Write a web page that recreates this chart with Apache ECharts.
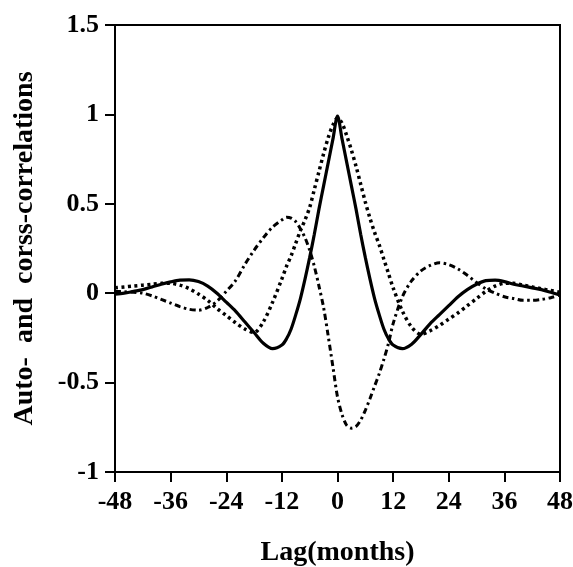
<!DOCTYPE html>
<html>
<head>
<meta charset="utf-8">
<script src="https://cdn.jsdelivr.net/npm/echarts@6/dist/echarts.min.js"></script>
<style>html,body{margin:0;padding:0;background:#fff;}#c{width:573px;height:567px;}</style>
</head>
<body>
<div id="c"></div>
<script>
const lags = [-48,-46,-44,-42,-40,-38,-36,-34,-32,-30,-28,-26,-24,-22,-20,-18,-16,-14,
  -12,-11,-10,-9,-8,-7,-6,-5,-4,-3,-2,-1,0,1,2,3,4,5,6,7,8,9,10,11,12,
  14,16,18,20,22,24,26,28,30,32,34,36,38,40,42,44,46,48];
const solidVals = [-0.005,0.0,0.01,0.02,0.035,0.05,0.063,0.073,0.075,0.065,0.04,0.0,-0.05,-0.1,-0.16,-0.22,-0.28,-0.31,
  -0.29,-0.255,-0.2,-0.12,-0.03,0.08,0.2,0.33,0.47,0.6,0.73,0.86,0.99,0.86,0.73,0.6,0.47,0.33,0.2,0.08,-0.03,-0.12,-0.2,-0.255,-0.29,
  -0.31,-0.285,-0.23,-0.17,-0.12,-0.07,-0.02,0.02,0.05,0.07,0.073,0.065,0.05,0.04,0.03,0.02,0.005,-0.01];
const dottedVals = [0.03,0.035,0.04,0.045,0.05,0.055,0.055,0.045,0.025,-0.005,-0.04,-0.085,-0.125,-0.165,-0.2,-0.22,-0.16,-0.05,
  0.08,0.15,0.21,0.28,0.35,0.41,0.48,0.58,0.68,0.78,0.87,0.94,0.98,0.95,0.88,0.8,0.71,0.61,0.51,0.42,0.34,0.27,0.19,0.11,0.03,
  -0.1,-0.19,-0.23,-0.21,-0.18,-0.145,-0.11,-0.07,-0.03,0.01,0.04,0.055,0.055,0.045,0.035,0.025,0.015,0.005];
const dashDotVals = [0.01,0.008,0.005,0.0,-0.015,-0.035,-0.055,-0.075,-0.09,-0.095,-0.08,-0.045,0.01,0.07,0.16,0.24,0.31,0.37,
  0.41,0.425,0.42,0.4,0.36,0.31,0.24,0.15,0.04,-0.08,-0.24,-0.41,-0.58,-0.68,-0.74,-0.755,-0.745,-0.71,-0.655,-0.59,-0.52,-0.45,-0.37,-0.28,-0.17,
  -0.02,0.07,0.125,0.155,0.17,0.16,0.135,0.1,0.06,0.025,0.0,-0.02,-0.03,-0.04,-0.04,-0.035,-0.025,-0.01];
const xTitle = 'Lag(months)';
const yTitle = 'Auto-  and  corss-correlations';

const pair = v => lags.map((l, i) => [l, v[i]]);
const font = 'Liberation Serif';
const chart = echarts.init(document.getElementById('c'), null, {renderer: 'canvas'});
chart.setOption({
  animation: false,
  grid: {left: 115, right: 13, top: 25, bottom: 95, show: true, borderColor: '#000', borderWidth: 2,
         containLabel: false, outerBoundsMode: 'none'},
  xAxis: {
    type: 'value', min: -48, max: 48, interval: 12,
    name: xTitle, nameLocation: 'middle', nameGap: 67,
    nameTextStyle: {fontFamily: font, fontWeight: 'bold', fontSize: 28, color: '#000'},
    axisLine: {show: true, onZero: false, lineStyle: {color: '#000', width: 2}},
    axisTick: {show: true, length: 10, lineStyle: {color: '#000', width: 2}},
    axisLabel: {fontFamily: font, fontWeight: 'bold', fontSize: 26, color: '#000', margin: 17},
    splitLine: {show: false}
  },
  yAxis: {
    type: 'value', min: -1, max: 1.5, interval: 0.5,
    name: yTitle, nameLocation: 'middle', nameGap: 76,
    nameTextStyle: {fontFamily: font, fontWeight: 'bold', fontSize: 28, color: '#000'},
    axisLine: {show: true, onZero: false, lineStyle: {color: '#000', width: 2}},
    axisTick: {show: true, length: 10, lineStyle: {color: '#000', width: 2}},
    axisLabel: {fontFamily: font, fontWeight: 'bold', fontSize: 26, color: '#000', margin: 16},
    splitLine: {show: false}
  },
  series: [
    {type: 'line', data: pair(solidVals), smooth: 0.3, showSymbol: false,
     lineStyle: {color: '#000', width: 3.2, type: 'solid'}},
    {type: 'line', data: pair(dottedVals), smooth: 0.3, showSymbol: false,
     lineStyle: {color: '#000', width: 3.5, type: [3, 3.5]}},
    {type: 'line', data: pair(dashDotVals), smooth: 0.3, showSymbol: false,
     lineStyle: {color: '#000', width: 3, type: [6, 3.5, 2.5, 3.5]}}
  ]
});
</script>
</body>
</html>
